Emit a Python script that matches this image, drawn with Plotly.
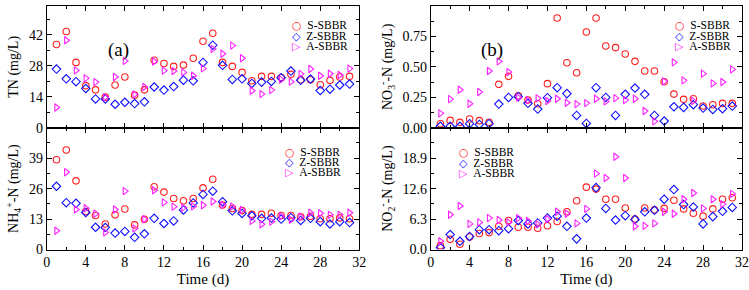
import plotly.graph_objects as go
from plotly.subplots import make_subplots

days = list(range(1, 32))
series_names = ["S-SBBR", "Z-SBBR", "A-SBBR"]

tn_s = [37.6, 43.5, 29.5, 19.0, 17.1, 13.8, 19.3, 22.9, 14.7, 17.1, 30.5, 29.0, 27.7, 28.3, 31.4, 39.1,
        42.7, 29.5, 27.7, 25.0, 21.2, 23.2, 23.2, 22.7, 24.1, 21.7, 21.7, 19.4, 21.4, 22.9, 23.2]
tn_z = [26.5, 22.1, 20.8, 17.7, 13.0, 13.0, 10.6, 11.5, 10.9, 11.7, 18.4, 17.0, 18.6, 21.5, 21.2, 29.5,
        37.3, 28.2, 21.8, 22.1, 20.0, 20.6, 20.9, 22.6, 25.6, 21.4, 22.0, 16.8, 17.4, 19.3, 19.7]
tn_a = [9.1, 39.5, 25.9, 22.3, 20.6, 13.8, 22.9, 30.2, 15.0, 18.4, 29.9, 25.8, 25.6, 25.0, 23.5, 26.8,
        35.6, 33.4, 37.1, 31.4, 16.7, 15.2, 17.0, 21.7, 20.8, 24.3, 26.5, 23.5, 24.4, 23.8, 26.7]

nh4_s = [38.3, 42.5, 29.3, 16.2, 14.5, 10.9, 14.8, 17.3, 10.5, 12.9, 26.8, 24.5, 21.8, 20.8, 21.8, 26.3,
         30.0, 19.0, 17.5, 16.6, 15.0, 15.0, 15.5, 14.5, 14.5, 14.0, 14.2, 13.1, 13.1, 13.5, 13.1]
nh4_z = [27.0, 20.0, 19.7, 15.8, 9.5, 9.4, 7.0, 7.7, 5.2, 6.7, 13.3, 11.1, 12.2, 16.9, 19.9, 23.5,
         24.9, 20.4, 16.5, 15.4, 14.4, 13.3, 13.4, 13.0, 13.6, 12.4, 13.3, 11.9, 10.9, 11.9, 11.5]
nh4_a = [8.0, 33.0, 17.1, 17.6, 15.3, 7.3, 17.1, 24.9, 9.0, 12.9, 25.3, 20.1, 18.3, 17.9, 18.4, 18.9,
         20.5, 19.0, 18.4, 16.9, 12.2, 10.8, 11.9, 14.2, 12.7, 14.0, 15.7, 15.5, 14.8, 14.8, 15.7]

no3_s = [0.033, 0.060, 0.044, 0.071, 0.058, 0.045, 0.356, 0.422, 0.263, 0.227, 0.197, 0.362, 0.901,
         0.534, 0.452, 0.786, 0.901, 0.671, 0.658, 0.605, 0.545, 0.466, 0.466, 0.378, 0.276, 0.233,
         0.238, 0.178, 0.189, 0.200, 0.200]
no3_z = [0.011, 0.011, 0.011, 0.033, 0.027, 0.033, 0.194, 0.249, 0.255, 0.200, 0.153, 0.247, 0.329,
         0.280, 0.101, 0.035, 0.329, 0.249, 0.101, 0.274, 0.326, 0.274, 0.101, 0.055, 0.172, 0.167,
         0.189, 0.161, 0.150, 0.156, 0.178]
no3_a = [0.118, 0.235, 0.312, 0.197, 0.293, 0.466, 0.545, 0.457, 0.247, 0.227, 0.241, 0.219, 0.238,
         0.205, 0.194, 0.202, 0.238, 0.216, 0.243, 0.227, 0.238, 0.137, 0.052, 0.381, 0.537, 0.389,
         0.220, 0.444, 0.364, 0.375, 0.479]

no2_s = [0.8, 2.1, 1.1, 2.6, 3.3, 3.5, 4.8, 6.0, 4.6, 4.6, 4.4, 4.9, 5.8, 7.8, 10.1, 12.9,
         12.5, 10.4, 10.4, 8.6, 6.3, 8.6, 8.2, 8.5, 10.2, 8.4, 7.5, 6.9, 8.4, 10.4, 10.7]
no2_z = [0.4, 3.1, 1.7, 2.7, 4.1, 4.1, 3.9, 4.3, 6.0, 5.3, 5.5, 6.5, 6.9, 4.8, 2.2, 6.5,
         12.8, 8.5, 6.1, 7.0, 6.2, 7.8, 8.1, 10.4, 12.4, 9.3, 8.8, 5.3, 6.8, 7.9, 8.7]
no2_a = [1.7, 7.2, 9.0, 5.3, 5.6, 6.5, 6.1, 5.6, 6.5, 5.9, 5.2, 6.3, 7.8, 7.4, 5.4, 8.4,
         15.7, 14.8, 19.2, 14.8, 4.8, 4.9, 5.4, 7.8, 7.4, 10.4, 11.7, 8.5, 10.4, 9.4, 11.5]

panels = [
    (1, 1, [tn_s, tn_z, tn_a]),
    (1, 2, [no3_s, no3_z, no3_a]),
    (2, 1, [nh4_s, nh4_z, nh4_a]),
    (2, 2, [no2_s, no2_z, no2_a]),
]

colors = ["#FF2020", "#1010FF", "#FF20FF"]
symbols = ["circle-open", "diamond-open", "triangle-right-open"]
glyphs = ["○", "◇", "▷"]

fig = make_subplots(rows=2, cols=2)
for r, c, vals in panels:
    for name, v, col, sym in zip(series_names, vals, colors, symbols):
        fig.add_trace(go.Scatter(x=days, y=v, mode="markers", name=name, showlegend=False,
                                 marker=dict(symbol=sym, size=6.5, color=col, line=dict(width=1.1, color=col))),
                      row=r, col=c)

FONT = "Liberation Serif, Times New Roman, serif"
W, H = 749, 290
left_dom = [46.7 / W, 359.3 / W]
right_dom = [430.7 / W, 742.0 / W]
top_dom = [1 - 127.7 / H, 1 - 6 / H]
bot_dom = [1 - 249.5 / H, 1 - 127.7 / H]

common_ax = dict(showline=True, linecolor="black", linewidth=1, mirror="ticks", ticks="inside",
                 ticklen=5, tickwidth=1, tickcolor="black", showgrid=False, zeroline=False,
                 automargin=False, tickfont=dict(family=FONT, size=14, color="black"))

xcommon = dict(common_ax, range=[0, 32], tickvals=[0, 4, 8, 12, 16, 20, 24, 28, 32],
               minor=dict(ticks="inside", dtick=2, ticklen=3, tickcolor="black", showgrid=False))

tfont = dict(family=FONT, size=14, color="black")
fig.update_layout(
    xaxis=dict(xcommon, domain=left_dom, showticklabels=False),
    xaxis2=dict(xcommon, domain=right_dom, showticklabels=False),
    xaxis3=dict(xcommon, domain=left_dom,
                title=dict(text="Time (d)", font=dict(family=FONT, size=15, color="black"), standoff=4)),
    xaxis4=dict(xcommon, domain=right_dom,
                title=dict(text="Time (d)", font=dict(family=FONT, size=15, color="black"), standoff=4)),
    yaxis=dict(common_ax, domain=top_dom, range=[0, 55], tickvals=[0, 14, 28, 42],
               minor=dict(ticks="inside", dtick=7, ticklen=3, tickcolor="black"),
               title=dict(text="TN (mg/L)", font=tfont, standoff=6)),
    yaxis2=dict(common_ax, domain=top_dom, range=[0, 1.0], tickvals=[0, 0.25, 0.5, 0.75, 1.0],
                tickformat=".2f",
                minor=dict(ticks="inside", dtick=0.125, ticklen=3, tickcolor="black"),
                title=dict(text="NO<sub>3</sub><sup>-</sup>-N (mg/L)", font=tfont, standoff=6)),
    yaxis3=dict(common_ax, domain=bot_dom, range=[0, 52], tickvals=[0, 13, 26, 39],
                minor=dict(ticks="inside", dtick=6.5, ticklen=3, tickcolor="black"),
                title=dict(text="NH<sub>4</sub><sup>+</sup>-N (mg/L)", font=tfont, standoff=6)),
    yaxis4=dict(common_ax, domain=bot_dom, range=[0, 25.2], tickvals=[0, 6.3, 12.6, 18.9],
                tickformat=".1f",
                minor=dict(ticks="inside", dtick=3.15, ticklen=3, tickcolor="black"),
                title=dict(text="NO<sub>2</sub><sup>-</sup>-N (mg/L)", font=tfont, standoff=6)),
)

fig.update_layout(width=W, height=H, margin=dict(l=0, r=0, t=0, b=0),
                  plot_bgcolor="white", paper_bgcolor="white", showlegend=False)

annotations = []
annotations.append(dict(text="(a)", xref="x domain", yref="y domain", x=0.19, y=0.745,
                        showarrow=False, font=dict(family=FONT, size=19, color="black")))
annotations.append(dict(text="(b)", xref="x2 domain", yref="y2 domain", x=0.156, y=0.745,
                        showarrow=False, font=dict(family=FONT, size=19, color="black")))

# legend blocks: (axis suffix, x domain, y domain, left edge px x, first row px y)
legend_blocks = [
    ("", left_dom, top_dom, 290.5, 25.7),
    ("2", right_dom, top_dom, 674.3, 26.0),
    ("3", left_dom, bot_dom, 283.7, 152.3),
    ("4", right_dom, bot_dom, 458.3, 152.7),
]
row_gap = 10.3
for suf, xd, yd, lx, y0 in legend_blocks:
    x0p, x1p = xd[0] * W, xd[1] * W
    ytop = (1 - yd[1]) * H
    ybot = (1 - yd[0]) * H
    for i, (name, col, g) in enumerate(zip(series_names, colors, glyphs)):
        py = y0 + i * row_gap
        yf = (ybot - py) / (ybot - ytop)
        txt = (f'<span style="color:{col};font-family:DejaVu Sans;font-size:11px">{g}</span>'
               f'&nbsp;&nbsp;{name}')
        annotations.append(dict(text=txt, xref=f"x{suf} domain", yref=f"y{suf} domain",
                                x=(lx - x0p) / (x1p - x0p), y=yf, xanchor="left", yanchor="middle",
                                showarrow=False, borderpad=0,
                                font=dict(family=FONT, size=11.5, color="black")))

fig.update_layout(annotations=annotations)
fig.write_html("out.html", config={"displayModeBar": False, "staticPlot": True},
               post_script="document.body.style.margin='0';document.body.style.overflow='hidden';")
